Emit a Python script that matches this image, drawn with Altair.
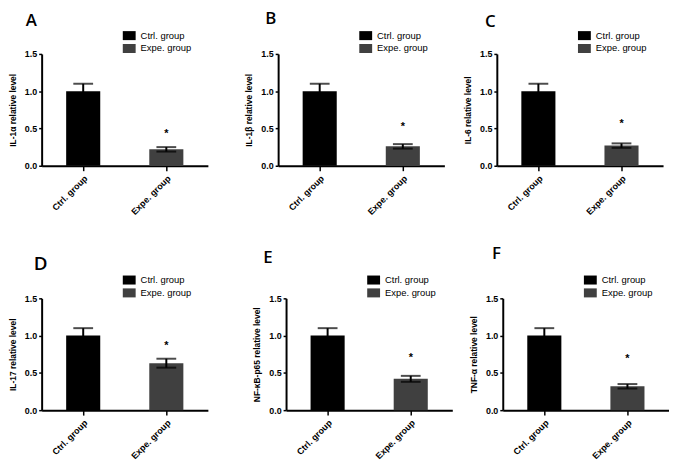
import altair as alt
import pandas as pd

# ---- data ----
panel_letters = ["A", "B", "C", "D", "E", "F"]
y_titles = [
    "IL-1α relative level",
    "IL-1β relative level",
    "IL-6 relative level",
    "IL-17 relative level",
    "NF-κB-p65 relative level",
    "TNF-α relative level",
]
groups = ["Ctrl. group", "Expe. group"]
ctrl_means = [1.00, 1.00, 1.00, 1.00, 1.00, 1.00]
ctrl_errs = [0.10, 0.10, 0.10, 0.10, 0.10, 0.10]
expe_means = [0.22, 0.26, 0.27, 0.63, 0.42, 0.32]
expe_errs = [0.03, 0.03, 0.03, 0.06, 0.04, 0.03]
star_levels = [0.46, 0.56, 0.60, 0.90, 0.74, 0.73]
star_marks = ["*", "*", "*", "*", "*", "*"]
y_ticks = [0.0, 0.5, 1.0, 1.5]

# ---- styles ----
bar_colors = ["#000000", "#404040"]
title_dx = [-16, -13, -12, -8, -23, -11]
title_size = [17, 17, 17, 19, 17, 17]
title_dy = [14, 12, 15, 15, 6, 2]
FONT = "Liberation Sans"


def panel(i):
    df = pd.DataFrame({
        "group": groups,
        "value": [ctrl_means[i], expe_means[i]],
        "lo": [ctrl_means[i] - ctrl_errs[i], expe_means[i] - expe_errs[i]],
        "hi": [ctrl_means[i] + ctrl_errs[i], expe_means[i] + expe_errs[i]],
    })
    star_df = pd.DataFrame({"group": [groups[1]], "y": [star_levels[i]], "t": [star_marks[i]]})

    xscale = alt.Scale(domain=groups, paddingInner=0.59, paddingOuter=0.295)
    xaxis = alt.Axis(
        title=None, labelAngle=-45, labelFont=FONT, labelFontWeight="bold",
        labelFontSize=9, labelColor="black", labelPadding=3,
        domainColor="black", domainWidth=2, tickColor="black", tickWidth=1.5,
        tickSize=5, grid=False, labelOverlap=False,
    )
    x = alt.X("group:N", sort=groups, scale=xscale, axis=xaxis)
    yscale = alt.Scale(domain=[0, 1.5], nice=False, zero=True)
    yaxis = alt.Axis(
        values=y_ticks, format=".1f", title=y_titles[i], titleFont=FONT,
        titleFontWeight="bold", titleFontSize=8.5, titleColor="black",
        titlePadding=7, labelFont=FONT, labelFontWeight="bold", labelFontSize=9,
        labelColor="black", labelPadding=2, domainColor="black", domainWidth=2,
        tickColor="black", tickWidth=1.5, tickSize=3, grid=False,
        labelOverlap=False, labelFlush=False,
    )
    color = alt.Color(
        "group:N",
        scale=alt.Scale(domain=groups, range=bar_colors),
        legend=alt.Legend(
            title=None, orient="none", legendX=82, legendY=-25, padding=0,
            symbolType="M-1,-0.7H1V0.7H-1Z", symbolSize=169, symbolStrokeWidth=0,
            symbolOpacity=1, labelFont=FONT, labelFontSize=9.5, labelColor="black",
            labelOffset=5, rowPadding=1,
        ),
    )
    base = alt.Chart(df)
    bars = base.mark_bar().encode(
        x=x, y=alt.Y("value:Q", scale=yscale, axis=yaxis), color=color)
    rule = base.mark_rule(color="black", strokeWidth=2).encode(
        x=x, y=alt.Y("lo:Q", scale=yscale, axis=yaxis), y2="hi:Q")
    cap_hi = base.mark_tick(color="black", thickness=2, size=20, orient="horizontal").encode(
        x=x, y=alt.Y("hi:Q", scale=yscale, axis=yaxis))
    cap_lo = base.mark_tick(color="black", thickness=2, size=20, orient="horizontal").encode(
        x=x, y=alt.Y("lo:Q", scale=yscale, axis=yaxis))
    star = alt.Chart(star_df).mark_text(
        font=FONT, fontWeight="bold", fontSize=11, color="black", baseline="middle", dy=3
    ).encode(x=x, y=alt.Y("y:Q", scale=yscale, axis=yaxis), text="t:N")

    return alt.layer(bars, rule, cap_hi, cap_lo, star).properties(
        width=168, height=113,
        title=alt.TitleParams(
            panel_letters[i], frame="group", anchor="start", dx=title_dx[i],
            offset=0, dy=title_dy[i], font="Open Sans", fontSize=title_size[i],
            fontWeight=600, color="black", baseline="alphabetic",
        ),
    )


row1 = alt.hconcat(
    panel(0),
    alt.hconcat(panel(1), panel(2), spacing=19).resolve_scale(color="independent"),
    spacing=37,
).resolve_scale(color="independent")
row2 = alt.hconcat(
    panel(3),
    alt.hconcat(panel(4), panel(5), spacing=17).resolve_scale(color="independent"),
    spacing=45,
).resolve_scale(color="independent")

chart = alt.vconcat(row1, row2, spacing=28).resolve_scale(color="independent").properties(
    padding=0, background="white"
).configure_view(stroke=None)

chart.save("out.html", embed_options={"renderer": "svg", "actions": False})
